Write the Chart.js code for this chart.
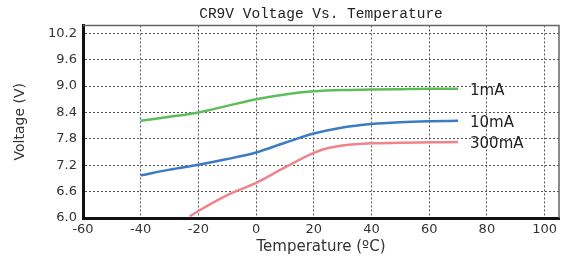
<!DOCTYPE html>
<html>
<head>
<meta charset="utf-8">
<script src="https://cdn.jsdelivr.net/npm/chart.js@4"></script>
<style>
  html, body { margin:0; padding:0; background:#fff; }
  #wrap { width:564px; height:257px; }
</style>
</head>
<body>
<div id="wrap"><canvas id="c" width="564" height="257"></canvas></div>
<script>
// values
const chartTitle = 'CR9V Voltage Vs. Temperature';
const seriesLabels = ['1mA', '10mA', '300mA'];
const tempA = [-40, -30, -20, -10, 0, 10, 20, 30, 40, 50, 60, 70];
const volt1mA = [8.21, 8.30, 8.40, 8.55, 8.70, 8.81, 8.88, 8.91, 8.92, 8.93, 8.94, 8.94];
const volt10mA = [6.97, 7.10, 7.21, 7.34, 7.49, 7.71, 7.92, 8.06, 8.14, 8.18, 8.20, 8.21];
const temp300 = [-23, -20, -10, 0, 10, 20, 25, 30, 40, 50, 60, 70];
const volt300mA = [6.04, 6.16, 6.52, 6.80, 7.15, 7.48, 7.59, 7.65, 7.70, 7.71, 7.72, 7.73];
const xTicks = [-60, -40, -20, 0, 20, 40, 60, 80, 100];
const yTicks = [6.0, 6.6, 7.2, 7.8, 8.4, 9.0, 9.6, 10.2];

const colors = ['#5dbd5a', '#3b7bc3', '#f0838d'];

function pts(xs, ys){ return xs.map((x,i)=>({x, y: ys[i]})); }

// frame on top/right of the plot area + labels at line ends
const framePlugin = {
    id: 'frame',
    beforeDatasetsDraw(chart){
        const {ctx, chartArea: a} = chart;
        ctx.save();
        ctx.strokeStyle = '#666';
        ctx.lineWidth = 1.5;
        ctx.beginPath();
        ctx.moveTo(a.left, a.top); ctx.lineTo(a.right, a.top); ctx.lineTo(a.right, a.bottom);
        ctx.stroke();
        ctx.restore();
    },
    afterDatasetsDraw(chart){
        const {ctx} = chart;
        ctx.save();
        ctx.font = '15px "DejaVu Sans"';
        ctx.fillStyle = '#222';
        ctx.textAlign = 'left';
        ctx.textBaseline = 'middle';
        chart.data.datasets.forEach((ds, i) => {
            const meta = chart.getDatasetMeta(i);
            const last = meta.data[meta.data.length - 1];
            ctx.fillText(seriesLabels[i], last.x + 12, last.y + 2);
        });
        ctx.restore();
    }
};

new Chart(document.getElementById('c'), {
    type: 'line',
    data: {
        datasets: [
            { label: seriesLabels[0], data: pts(tempA, volt1mA), borderColor: colors[0] },
            { label: seriesLabels[1], data: pts(tempA, volt10mA), borderColor: colors[1] },
            { label: seriesLabels[2], data: pts(temp300, volt300mA), borderColor: colors[2] }
        ]
    },
    options: {
        responsive: false,
        animation: false,
        events: [],
        layout: { padding: { top: 0, right: 5, bottom: 0, left: 0 } },
        elements: {
            line: { borderWidth: 2.5, cubicInterpolationMode: 'monotone', fill: false },
            point: { radius: 0 }
        },
        plugins: {
            legend: { display: false },
            tooltip: { enabled: false },
            title: {
                display: true,
                text: chartTitle,
                fullSize: false,
                color: '#222',
                font: { family: '"Liberation Mono"', size: 14.5, weight: 'normal' },
                padding: { top: 5, bottom: 3 }
            }
        },
        scales: {
            x: {
                type: 'linear',
                min: -60, max: 105,
                afterBuildTicks: (s) => { s.ticks = xTicks.map(v => ({ value: v })); },
                afterFit: (s) => { s.height = 39; },
                ticks: { color: '#333', padding: 4, font: { family: '"DejaVu Sans"', size: 13 } },
                grid: { color: '#555', lineWidth: 1, drawTicks: false },
                border: { display: true, color: '#111', width: 3, dash: [2, 2] },
                title: {
                    display: true, text: 'Temperature (ºC)', color: '#333',
                    font: { family: '"DejaVu Sans"', size: 15 },
                    padding: { top: 0, bottom: 1 }
                }
            },
            y: {
                min: 6.0, max: 10.38,
                afterBuildTicks: (s) => { s.ticks = yTicks.map(v => ({ value: v })); },
                afterFit: (s) => { s.width = 83; },
                ticks: {
                    color: '#333', padding: 6, font: { family: '"DejaVu Sans"', size: 13 },
                    callback: (v) => Number(v).toFixed(1)
                },
                grid: { color: '#555', lineWidth: 1, drawTicks: false },
                border: { display: true, color: '#111', width: 3, dash: [2, 2] },
                title: {
                    display: true, text: 'Voltage (V)', color: '#333',
                    font: { family: '"DejaVu Sans"', size: 14 },
                    padding: { top: 12, bottom: 0 }
                }
            }
        }
    },
    plugins: [framePlugin]
});
</script>
</body>
</html>
